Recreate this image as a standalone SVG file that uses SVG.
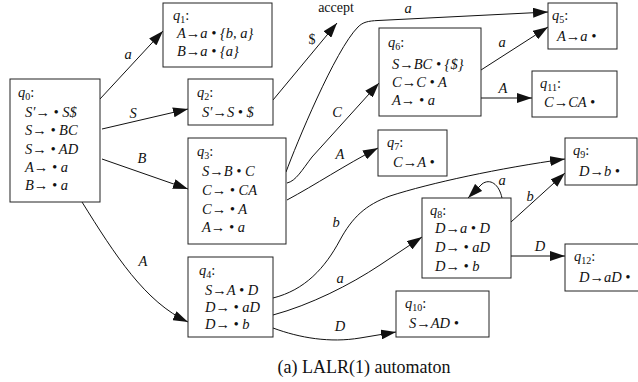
<svg xmlns="http://www.w3.org/2000/svg" width="638" height="382" viewBox="0 0 638 382">
<defs>
<style>
.box{fill:#fff;stroke:#222;stroke-width:1}
.m{font-family:'Liberation Serif','DejaVu Serif',serif;font-style:italic;font-size:14.5px;fill:#111}
.r{font-family:'Liberation Serif','DejaVu Serif',serif;font-size:14px;fill:#111}
.sub{font-size:10px;font-style:normal}
.e{fill:none;stroke:#111;stroke-width:1}
.cap{font-family:'Liberation Serif','DejaVu Serif',serif;font-size:18px;fill:#111}
</style>
<marker id="ah" markerWidth="15" markerHeight="10" refX="15" refY="5" orient="auto" markerUnits="userSpaceOnUse"><path d="M0,0 L15,5 L0,10 z" fill="#111"/></marker>
</defs>
<rect width="638" height="382" fill="#fff"/>
<g id="edges">
<path class="e" d="M100,99 L163,31" marker-end="url(#ah)"/>
<path class="e" d="M102,129 L188,109" marker-end="url(#ah)"/>
<path class="e" d="M102,159 L188,189" marker-end="url(#ah)"/>
<path class="e" d="M82,202 C115,255 145,302 188,322" marker-end="url(#ah)"/>
<path class="e" d="M273,100 L337,23" marker-end="url(#ah)"/>
<path class="e" d="M286,172 C296,145 335,50 358,27 C363,22 368,21 378,20.5 L548,12" marker-end="url(#ah)"/>
<path class="e" d="M287,183 C296,181 302,170 312,157 L379,83" marker-end="url(#ah)"/>
<path class="e" d="M287,200 C315,185 345,165 378,148" marker-end="url(#ah)"/>
<path class="e" d="M481,70 L548,27" marker-end="url(#ah)"/>
<path class="e" d="M481,98 L532,98" marker-end="url(#ah)"/>
<path class="e" d="M273,298 C305,290 325,268 340,240 C352,218 365,205 390,196 C430,183 500,168 565,159" marker-end="url(#ah)"/>
<path class="e" d="M273,315 C310,305 350,285 380,265 L422,237" marker-end="url(#ah)"/>
<path class="e" d="M273,328 C300,338 330,343 360,338 L396,332" marker-end="url(#ah)"/>
<path class="e" d="M502,198 C499,184 490,178 482,184 L468,198" marker-end="url(#ah)"/>
<path class="e" d="M511,222 L565,173" marker-end="url(#ah)"/>
<path class="e" d="M511,256 L565,256" marker-end="url(#ah)"/>
<text class="m" x="128" y="59" text-anchor="middle">a</text>
<text class="m" x="133" y="118" text-anchor="middle">S</text>
<text class="m" x="142" y="163" text-anchor="middle">B</text>
<text class="m" x="143" y="266" text-anchor="middle">A</text>
<text class="r" x="312" y="44" text-anchor="middle">$</text>
<text class="m" x="408" y="13" text-anchor="middle">a</text>
<text class="m" x="337" y="117" text-anchor="middle">C</text>
<text class="m" x="340" y="159" text-anchor="middle">A</text>
<text class="m" x="502" y="47" text-anchor="middle">a</text>
<text class="m" x="503" y="93" text-anchor="middle">A</text>
<text class="m" x="336" y="227" text-anchor="middle">b</text>
<text class="m" x="340" y="283" text-anchor="middle">a</text>
<text class="m" x="340" y="331" text-anchor="middle">D</text>
<text class="m" x="502" y="185" text-anchor="middle">a</text>
<text class="m" x="530" y="201" text-anchor="middle">b</text>
<text class="m" x="540" y="251" text-anchor="middle">D</text>
</g>
<text class="r" x="336" y="12" text-anchor="middle">accept</text>
<g id="q0">
<rect class="box" x="10" y="79" width="90" height="123"/>
<text class="m" x="18" y="97">q<tspan class="sub" dy="3">0</tspan><tspan dy="-3" font-style="normal">:</tspan></text>
<text class="m" x="25" y="117">S′→ • S$</text>
<text class="m" x="25" y="135">S→ • BC</text>
<text class="m" x="25" y="154">S→ • AD</text>
<text class="m" x="25" y="172">A→ • a</text>
<text class="m" x="25" y="190">B→ • a</text>
</g>
<g id="q1">
<rect class="box" x="163" y="3" width="109" height="64"/>
<text class="m" x="173" y="20">q<tspan class="sub" dy="3">1</tspan><tspan dy="-3" font-style="normal">:</tspan></text>
<text class="m" x="177" y="38">A→a • {b, a}</text>
<text class="m" x="177" y="56">B→a • {a}</text>
</g>
<g id="q2">
<rect class="box" x="188" y="79" width="85" height="46"/>
<text class="m" x="197" y="97">q<tspan class="sub" dy="3">2</tspan><tspan dy="-3" font-style="normal">:</tspan></text>
<text class="m" x="202" y="117">S′→S • $</text>
</g>
<g id="q3">
<rect class="box" x="188" y="138" width="98" height="106"/>
<text class="m" x="197" y="156">q<tspan class="sub" dy="3">3</tspan><tspan dy="-3" font-style="normal">:</tspan></text>
<text class="m" x="202" y="176">S→B • C</text>
<text class="m" x="202" y="195">C→ • CA</text>
<text class="m" x="202" y="214">C→ • A</text>
<text class="m" x="202" y="232">A→ • a</text>
</g>
<g id="q4">
<rect class="box" x="188" y="257" width="85" height="80"/>
<text class="m" x="199" y="275">q<tspan class="sub" dy="3">4</tspan><tspan dy="-3" font-style="normal">:</tspan></text>
<text class="m" x="205" y="295">S→A • D</text>
<text class="m" x="205" y="312">D→ • aD</text>
<text class="m" x="205" y="329">D→ • b</text>
</g>
<g id="q5">
<rect class="box" x="548" y="3" width="69" height="46"/>
<text class="m" x="552" y="20">q<tspan class="sub" dy="3">5</tspan><tspan dy="-3" font-style="normal">:</tspan></text>
<text class="m" x="557" y="41">A→a •</text>
</g>
<g id="q6">
<rect class="box" x="379" y="28" width="102" height="88"/>
<text class="m" x="388" y="47">q<tspan class="sub" dy="3">6</tspan><tspan dy="-3" font-style="normal">:</tspan></text>
<text class="m" x="392" y="69">S→BC • {$}</text>
<text class="m" x="392" y="87">C→C • A</text>
<text class="m" x="392" y="105">A→ • a</text>
</g>
<g id="q7">
<rect class="box" x="378" y="130" width="69" height="46"/>
<text class="m" x="387" y="147">q<tspan class="sub" dy="3">7</tspan><tspan dy="-3" font-style="normal">:</tspan></text>
<text class="m" x="393" y="167">C→A •</text>
</g>
<g id="q8">
<rect class="box" x="422" y="198" width="89" height="80"/>
<text class="m" x="430" y="215">q<tspan class="sub" dy="3">8</tspan><tspan dy="-3" font-style="normal">:</tspan></text>
<text class="m" x="435" y="233">D→a • D</text>
<text class="m" x="435" y="252">D→ • aD</text>
<text class="m" x="435" y="271">D→ • b</text>
</g>
<g id="q9">
<rect class="box" x="565" y="138" width="72" height="47"/>
<text class="m" x="573" y="155">q<tspan class="sub" dy="3">9</tspan><tspan dy="-3" font-style="normal">:</tspan></text>
<text class="m" x="579" y="176">D→b •</text>
</g>
<g id="q10">
<rect class="box" x="396" y="291" width="93" height="46"/>
<text class="m" x="405" y="308">q<tspan class="sub" dy="3">10</tspan><tspan dy="-3" font-style="normal">:</tspan></text>
<text class="m" x="409" y="328">S→AD •</text>
</g>
<g id="q11">
<rect class="box" x="532" y="71" width="85" height="46"/>
<text class="m" x="540" y="88">q<tspan class="sub" dy="3">11</tspan><tspan dy="-3" font-style="normal">:</tspan></text>
<text class="m" x="544" y="107">C→CA •</text>
</g>
<g id="q12">
<rect class="box" x="565" y="244" width="80" height="47"/>
<text class="m" x="574" y="261">q<tspan class="sub" dy="3">12</tspan><tspan dy="-3" font-style="normal">:</tspan></text>
<text class="m" x="579" y="282">D→aD •</text>
</g>
<text class="cap" x="364" y="373" text-anchor="middle">(a) LALR(1) automaton</text>
</svg>
